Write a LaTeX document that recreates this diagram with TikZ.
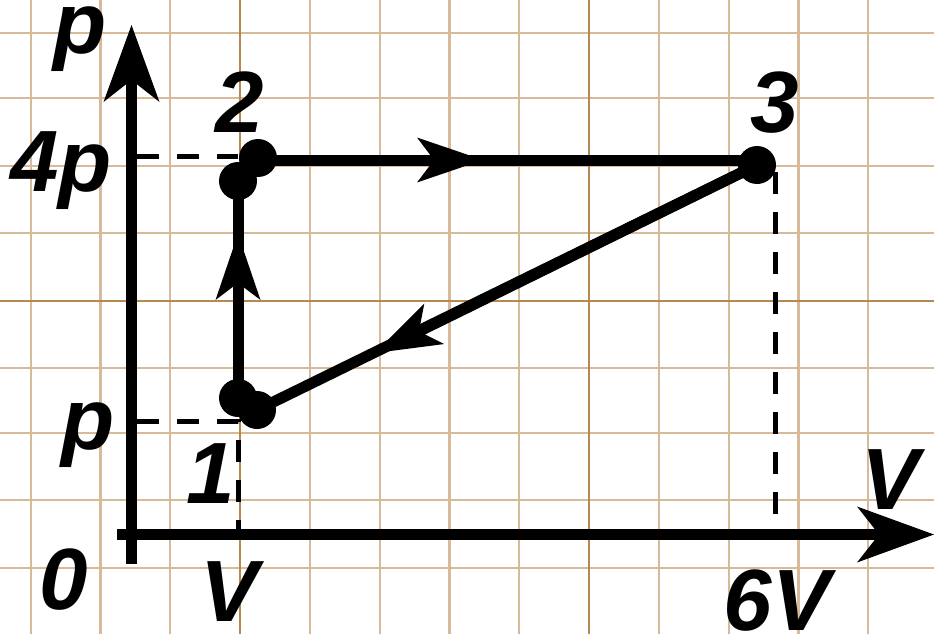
\documentclass[tikz,border=0pt]{standalone}
\usepackage{fontspec}
\setmainfont{Liberation Sans}
\usetikzlibrary{arrows.meta}
\definecolor{gridlight}{RGB}{214,186,154}
\definecolor{griddark}{RGB}{184,136,82}
\begin{document}
\begin{tikzpicture}[x=1pt,y=-1pt,
  gl/.style={gridlight,line width=2.2pt},
  gd/.style={griddark,line width=2.4pt},
  axis/.style={line width=11pt,-{Stealth[length=77pt,width=56pt,inset=22pt,line width=0pt]}},
  proc/.style={line width=11pt},
  midarrow/.style={line width=11pt,-{Stealth[length=66pt,width=45pt,inset=17pt,line width=0pt]}},
  dot/.style={circle,fill=black,inner sep=0pt,minimum size=38pt},
  guide/.style={line width=5pt,dash pattern=on 22pt off 18pt},
  lbl/.style={font=\fontsize{87}{87}\selectfont\bfseries\itshape,inner sep=0pt,anchor=base}]
\useasboundingbox (0,0) rectangle (934,634);
\fill[white] (0,0) rectangle (934,634);
% grid
\foreach \x in {30.6,100.4,170.2,309.8,379.6,449.4,519.2,658.8,728.6,798.4,868.2}
  \draw[gl] (\x,0) -- (\x,634);
\foreach \y in {33,98,166,233,368,433,500,568}
  \draw[gl] (0,\y) -- (934,\y);
\foreach \x in {240,589}
  \draw[gd] (\x,0) -- (\x,634);
\draw[gd] (0,301) -- (934,301);
% axes
\coordinate (ybot) at (131.5,564);
\coordinate (ytop) at (131.5,25);
\coordinate (xleft) at (117,534.5);
\coordinate (xright) at (934,534.5);
\draw[axis] (ybot) -- (ytop);
\draw[axis] (xleft) -- (xright);
% guide lines
\coordinate (g4p) at (137,156);
\coordinate (g4pe) at (238,156);
\coordinate (gp) at (137,421);
\coordinate (gpe) at (238,421);
\coordinate (gvb) at (238,534.5);
\coordinate (g6t) at (775,172);
\coordinate (g6b) at (775,534.5);
\draw[guide] (g4p) -- (g4pe);
\draw[guide] (gp) -- (gpe) -- (gvb);
\draw[guide] (g6t) -- (g6b);
% state dots
\node[dot] (d1a) at (238,398) {};
\node[dot] (d1b) at (257,410) {};
\node[dot] (d2a) at (258,158) {};
\node[dot] (d2b) at (238,181) {};
\node[dot] (d3) at (757,165) {};
\coordinate (h3) at (757,160);
\coordinate (h2) at (258,160);
\coordinate (t12) at (238,234);
\coordinate (t23) at (483,160);
\coordinate (t31) at (375,353);
% processes
\draw[proc] (d1a.center) -- (d2b.center);
\draw[midarrow] (d1a.center) -- (t12);
\draw[proc] (h2) -- (h3);
\draw[midarrow] (h2) -- (t23);
\draw[proc] (d3.center) -- (d1b.center);
\draw[midarrow] (d3.center) -- (t31);
% labels
\node[lbl] (lp) at (80,54) {p};
\node[lbl] (l4p) at (61,191) {4p};
\node[lbl] (lpl) at (88,449) {p};
\node[lbl] (l2) at (240,132) {2};
\node[lbl] (l3) at (775,132) {3};
\node[lbl] (l1) at (211,503) {1};
\node[lbl] (l0) at (64,609) {0};
\node[lbl] (lV) at (230,621) {V};
\node[lbl] (lVax) at (891,509) {V};
\node[lbl] (l6V) at (777,630) {6V};
\end{tikzpicture}
\end{document}
